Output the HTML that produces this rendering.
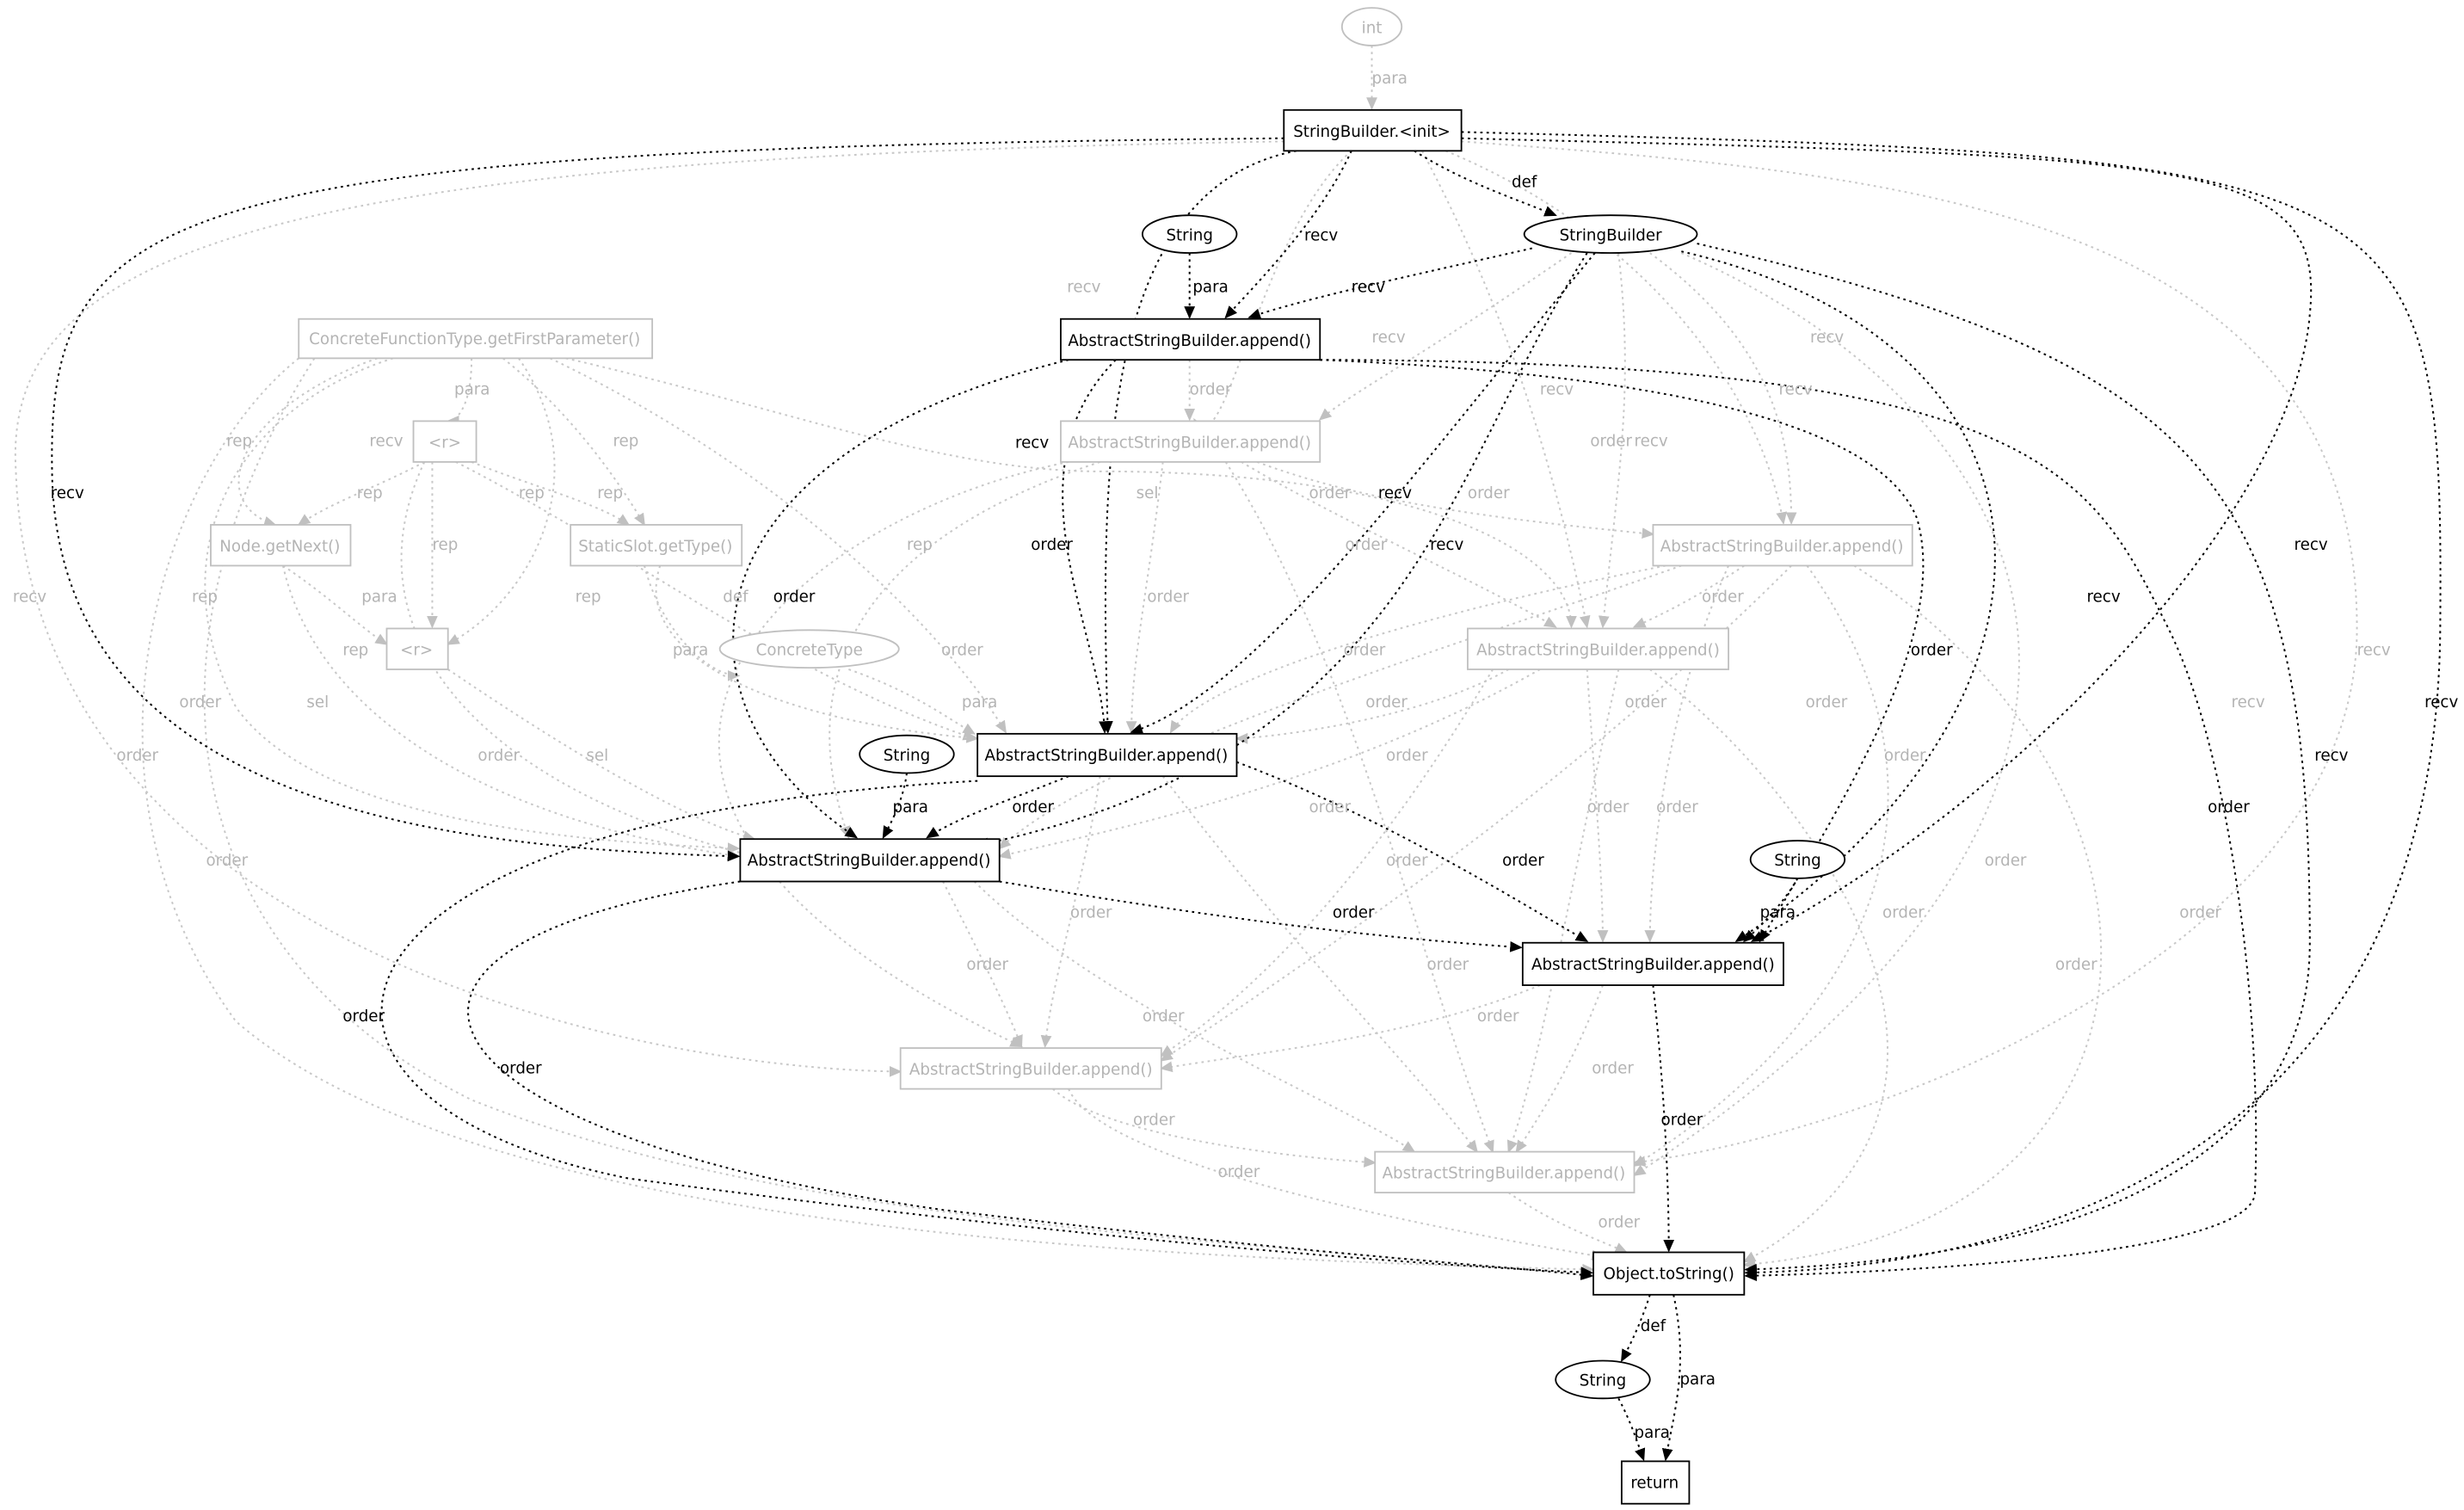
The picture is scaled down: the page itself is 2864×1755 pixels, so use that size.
<!DOCTYPE html>
<html><head><meta charset="utf-8"><style>
html,body{margin:0;padding:0;background:#fff;}
svg{display:block;}
text{font-family:"DejaVu Sans","Liberation Sans",sans-serif;font-size:10px;}
.b{fill:none;stroke:#000;stroke-width:1.1;stroke-dasharray:1.5 2.5;}
.g{fill:none;stroke:#c8c8c8;stroke-width:1.1;stroke-dasharray:1.5 2.5;}
.nb{fill:#fff;stroke:#000;stroke-width:1;}
.ng{fill:#fff;stroke:#c0c0c0;stroke-width:1;}
.tb{fill:#000;text-anchor:middle;}
.tg{fill:#b4b4b4;text-anchor:middle;}
.lb{fill:#000;}
.lg{fill:#b4b4b4;}
</style></head><body>
<svg width="2864" height="1755" viewBox="0 0 1568 961" xmlns="http://www.w3.org/2000/svg">
<defs>
<marker id="ab" markerWidth="8" markerHeight="8" refX="7" refY="4" orient="auto" markerUnits="userSpaceOnUse"><path d="M0,0.5 L8,4 L0,7.5z" fill="#000"/></marker>
<marker id="ag" markerWidth="8" markerHeight="8" refX="7" refY="4" orient="auto" markerUnits="userSpaceOnUse"><path d="M0,0.5 L8,4 L0,7.5z" fill="#c0c0c0"/></marker>
</defs>
<rect width="1568" height="961" fill="#fff"/>

<g class="g" marker-end="url(#ag)">
<path d="M873,29 L873,69"/>
<path d="M860,96 C800,150 780,300 760,267"/>
<path d="M905,96 C960,200 990,300 1010,399"/>
<path d="M920,96 C1050,150 1120,250 1135,333"/>
<path d="M930,90 C1200,110 1500,130 1500,400 C1500,600 1200,720 1040,740"/>
<path d="M817,90 C200,100 0,150 10,300 C20,600 400,680 573,682"/>
<path d="M1000,161 C900,230 860,250 840,267"/>
<path d="M1030,161 C1040,250 1030,300 1020,399"/>
<path d="M1050,161 C1130,220 1140,280 1140,333"/>
<path d="M1070,161 C1300,260 1420,500 1040,748"/>
<path d="M757,229 L757,267"/>
<path d="M800,294 C870,320 950,330 1052,340"/>
<path d="M790,294 C850,330 940,370 990,399"/>
<path d="M740,294 C730,380 720,420 720,466"/>
<path d="M700,294 C560,340 500,420 540,533"/>
<path d="M780,294 C860,420 900,600 950,733"/>
<path d="M680,294 C500,330 300,500 650,666"/>
<path d="M1110,360 C1080,380 1060,390 1040,399"/>
<path d="M1060,360 C860,400 760,440 745,466"/>
<path d="M1070,360 C900,420 700,480 636,540"/>
<path d="M1100,360 C1060,450 1050,550 1050,599"/>
<path d="M1150,360 C1250,500 1200,640 1040,742"/>
<path d="M1180,360 C1400,500 1400,780 1110,805"/>
<path d="M1140,360 C1000,500 850,600 739,675"/>
<path d="M960,426 C900,460 800,470 787,470"/>
<path d="M980,426 C850,500 700,530 636,545"/>
<path d="M1010,426 C1015,500 1020,560 1020,599"/>
<path d="M1050,426 C1150,500 1300,700 1110,803"/>
<path d="M950,426 C870,560 800,630 739,672"/>
<path d="M1030,426 C1000,560 980,680 960,733"/>
<path d="M240,228 C150,260 130,320 175,334"/>
<path d="M300,228 C300,260 290,268 285,268"/>
<path d="M320,228 C360,260 390,300 410,334"/>
<path d="M330,228 C380,300 340,380 285,410"/>
<path d="M350,228 C500,300 600,400 640,466"/>
<path d="M250,228 C150,260 100,350 150,450 C200,520 350,535 470,540"/>
<path d="M360,228 C500,260 600,300 700,300 C900,300 1000,350 1000,399"/>
<path d="M190,228 C100,300 40,500 150,650 C300,780 700,800 1014,808"/>
<path d="M270,294 C240,310 210,320 190,334"/>
<path d="M275,294 L275,399"/>
<path d="M300,294 C340,310 380,320 400,334"/>
<path d="M290,294 C400,350 500,430 620,470"/>
<path d="M270,294 C220,400 300,500 480,545"/>
<path d="M180,360 C210,380 230,400 246,410"/>
<path d="M180,360 C200,450 300,520 470,545"/>
<path d="M285,426 C350,470 430,520 480,534"/>
<path d="M410,360 C420,400 450,430 470,430"/>
<path d="M540,426 C580,440 600,455 620,467"/>
<path d="M420,360 C400,420 500,460 622,470"/>
<path d="M600,561 C620,600 640,640 650,666"/>
<path d="M620,561 C700,640 850,700 900,733"/>
<path d="M700,494 C690,560 670,620 665,666"/>
<path d="M740,494 C820,600 900,680 940,733"/>
<path d="M980,627 C900,660 800,670 739,680"/>
<path d="M1020,627 C1000,680 980,710 965,733"/>
<path d="M670,693 C700,720 800,735 875,740"/>
<path d="M680,693 C700,740 900,780 1020,800"/>
<path d="M960,759 C990,780 1020,790 1035,797"/>
<path d="M200,228 C90,400 100,600 300,700 C500,780 800,790 1014,812"/>
</g>

<g class="b" marker-end="url(#ab)">
<path d="M860,96 C840,140 800,180 780,202"/>
<path d="M900,96 C930,115 960,125 990,137"/>
<path d="M757,161 L757,202"/>
<path d="M975,158 C900,175 830,190 795,202"/>
<path d="M825,96 C700,120 700,300 705,466"/>
<path d="M817,88 C100,95 30,130 33,300 C36,520 300,540 470,545"/>
<path d="M930,88 C1400,100 1480,100 1470,200 C1460,320 1300,500 1115,599"/>
<path d="M930,84 C1540,100 1555,105 1553,400 C1550,790 1200,808 1111,810"/>
<path d="M1015,161 C900,300 800,440 720,466"/>
<path d="M1010,161 C920,300 900,480 622,538"/>
<path d="M1070,160 C1330,220 1330,450 1105,599"/>
<path d="M1080,155 C1400,230 1470,300 1470,600 C1470,790 1200,805 1111,808"/>
<path d="M710,229 C640,300 700,400 703,466"/>
<path d="M680,229 C430,290 420,450 545,533"/>
<path d="M840,229 C1100,240 1200,280 1220,330 C1240,400 1180,500 1120,599"/>
<path d="M840,229 C1300,230 1330,300 1380,400 C1420,480 1440,650 1435,760 C1430,800 1200,810 1111,812"/>
<path d="M577,492 C575,508 568,522 562,533"/>
<path d="M680,494 C640,510 610,520 590,533"/>
<path d="M787,485 C880,520 960,570 1010,599"/>
<path d="M622,497 C180,520 150,700 400,750 C700,790 900,805 1013,810"/>
<path d="M471,561 C200,600 250,720 600,770 C850,800 950,805 1013,812"/>
<path d="M636,561 C750,580 850,595 968,603"/>
<path d="M1144,559 C1135,575 1120,590 1110,599"/>
<path d="M1052,627 C1060,700 1062,760 1062,796"/>
<path d="M1050,824 C1045,840 1038,855 1032,866"/>
<path d="M1065,824 C1075,870 1065,900 1060,929"/>
<path d="M1030,890 C1038,905 1042,918 1046,929"/>
</g>

<ellipse class="ng" cx="873" cy="17" rx="19" ry="12"/><text class="tg" x="873" y="21">int</text>
<rect class="nb" x="817" y="70" width="113" height="26"/><text class="tb" x="873" y="87">StringBuilder.&lt;init&gt;</text>
<ellipse class="nb" cx="1025" cy="149" rx="55" ry="12"/><text class="tb" x="1025" y="153">StringBuilder</text>
<ellipse class="nb" cx="757" cy="149" rx="30" ry="12"/><text class="tb" x="757" y="153">String</text>
<rect class="nb" x="675" y="203" width="165" height="26"/><text class="tb" x="757" y="220">AbstractStringBuilder.append()</text>
<rect class="ng" x="190" y="203" width="225" height="25"/><text class="tg" x="302" y="219">ConcreteFunctionType.getFirstParameter()</text>
<rect class="ng" x="263" y="268" width="40" height="26"/><text class="tg" x="283" y="285">&lt;r&gt;</text>
<rect class="ng" x="675" y="268" width="165" height="26"/><text class="tg" x="757" y="285">AbstractStringBuilder.append()</text>
<rect class="ng" x="134" y="334" width="89" height="26"/><text class="tg" x="178" y="351">Node.getNext()</text>
<rect class="ng" x="363" y="334" width="109" height="26"/><text class="tg" x="417" y="351">StaticSlot.getType()</text>
<rect class="ng" x="1052" y="334" width="165" height="26"/><text class="tg" x="1134" y="351">AbstractStringBuilder.append()</text>
<rect class="ng" x="246" y="400" width="39" height="26"/><text class="tg" x="265" y="417">&lt;r&gt;</text>
<ellipse class="ng" cx="515" cy="413" rx="57" ry="12"/><text class="tg" x="515" y="417">ConcreteType</text>
<rect class="ng" x="934" y="400" width="166" height="26"/><text class="tg" x="1017" y="417">AbstractStringBuilder.append()</text>
<ellipse class="nb" cx="577" cy="480" rx="30" ry="12"/><text class="tb" x="577" y="484">String</text>
<rect class="nb" x="622" y="467" width="165" height="27"/><text class="tb" x="704" y="484">AbstractStringBuilder.append()</text>
<rect class="nb" x="471" y="534" width="165" height="27"/><text class="tb" x="553" y="551">AbstractStringBuilder.append()</text>
<ellipse class="nb" cx="1144" cy="547" rx="30" ry="12"/><text class="tb" x="1144" y="551">String</text>
<rect class="nb" x="969" y="600" width="166" height="27"/><text class="tb" x="1052" y="617">AbstractStringBuilder.append()</text>
<rect class="ng" x="573" y="667" width="166" height="26"/><text class="tg" x="656" y="684">AbstractStringBuilder.append()</text>
<rect class="ng" x="875" y="733" width="165" height="26"/><text class="tg" x="957" y="750">AbstractStringBuilder.append()</text>
<rect class="nb" x="1014" y="797" width="96" height="27"/><text class="tb" x="1062" y="814">Object.toString()</text>
<ellipse class="nb" cx="1020" cy="878" rx="30" ry="12"/><text class="tb" x="1020" y="882">String</text>
<rect class="nb" x="1032" y="930" width="43" height="27"/><text class="tb" x="1053" y="947">return</text>

<g class="lb">
<text x="962" y="119">def</text><text x="830" y="153">recv</text><text x="759" y="186">para</text><text x="860" y="186">recv</text>
<text x="32" y="317">recv</text><text x="646" y="285">recv</text><text x="877" y="317">recv</text><text x="910" y="350">recv</text>
<text x="656" y="350">order</text><text x="492" y="383">order</text><text x="1216" y="417">order</text>
<text x="1460" y="350">recv</text><text x="1328" y="383">recv</text><text x="1543" y="450">recv</text><text x="1473" y="484">recv</text>
<text x="1405" y="517">order</text><text x="644" y="517">order</text><text x="568" y="517">para</text><text x="956" y="551">order</text>
<text x="848" y="584">order</text><text x="1120" y="584">para</text><text x="218" y="650">order</text><text x="318" y="683">order</text>
<text x="1057" y="716">order</text><text x="1044" y="847">def</text><text x="1069" y="881">para</text><text x="1040" y="915">para</text>
</g>
<g class="lg">
<text x="873" y="53">para</text><text x="679" y="186">recv</text><text x="873" y="218">recv</text><text x="1152" y="218">recv</text>
<text x="289" y="251">para</text><text x="757" y="251">order</text><text x="1012" y="284">order</text><text x="1040" y="284">recv</text><text x="1132" y="251">recv</text><text x="980" y="251">recv</text>
<text x="144" y="284">rep</text><text x="235" y="284">recv</text><text x="390" y="284">rep</text>
<text x="227" y="317">rep</text><text x="380" y="317">rep</text><text x="330" y="317">rep</text><text x="577" y="350">rep</text><text x="723" y="317">sel</text><text x="833" y="317">order</text><text x="934" y="317">order</text>
<text x="8" y="383">recv</text><text x="122" y="383">rep</text><text x="275" y="350">rep</text><text x="230" y="383">para</text><text x="366" y="383">rep</text><text x="460" y="383">def</text><text x="856" y="350">order</text><text x="730" y="383">order</text><text x="1083" y="383">order</text>
<text x="218" y="417">rep</text><text x="428" y="417">para</text><text x="599" y="417">order</text><text x="855" y="417">order</text><text x="1500" y="417">recv</text>
<text x="114" y="450">order</text><text x="195" y="450">sel</text><text x="612" y="450">para</text><text x="869" y="450">order</text><text x="1034" y="450">order</text><text x="1149" y="450">order</text><text x="1420" y="450">recv</text>
<text x="74" y="484">order</text><text x="304" y="484">order</text><text x="373" y="484">sel</text><text x="882" y="484">order</text><text x="1199" y="484">order</text>
<text x="833" y="517">order</text><text x="1010" y="517">order</text><text x="1054" y="517">order</text>
<text x="131" y="551">order</text><text x="882" y="551">order</text><text x="1263" y="551">order</text>
<text x="681" y="584">order</text><text x="1198" y="584">order</text><text x="1387" y="584">order</text>
<text x="615" y="617">order</text><text x="908" y="617">order</text><text x="1308" y="617">order</text>
<text x="727" y="650">order</text><text x="940" y="650">order</text><text x="1013" y="683">order</text>
<text x="721" y="716">order</text><text x="775" y="749">order</text><text x="1017" y="781">order</text>
</g>
</svg>
</body></html>
